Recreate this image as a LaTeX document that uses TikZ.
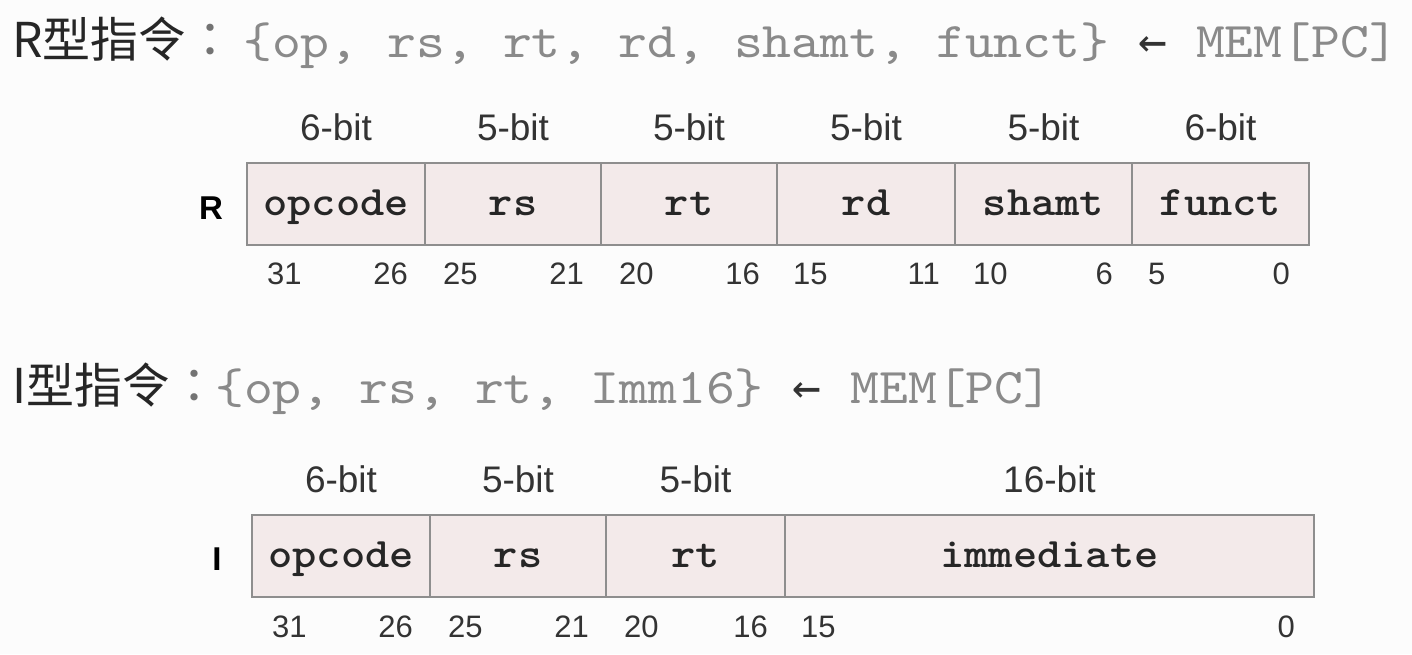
\documentclass[tikz,border=0pt]{standalone}
\usepackage{fontspec}
\setmainfont{Liberation Sans}
\newfontfamily\cjkfont{Noto Sans CJK TC}
\newfontfamily\codefont[FakeStretch=1.1]{lmmono10-regular.otf}
\newfontfamily\fieldfont[FakeStretch=1.1]{lmmonolt10-bold.otf}
\newfontfamily\arrowfont{DejaVu Sans Mono}
\definecolor{pagebg}{HTML}{FCFCFC}
\definecolor{boxfill}{HTML}{F3EAEA}
\definecolor{boxline}{HTML}{8E8E8E}
\definecolor{fieldtext}{HTML}{262626}
\definecolor{formulatext}{HTML}{8A8A8A}
\definecolor{labeltext}{HTML}{333333}
\begin{document}
\begin{tikzpicture}[x=1pt,y=-1pt,
  field/.style={draw=boxline, line width=2.4pt, fill=boxfill,
    minimum height=82pt, inner sep=0pt, outer sep=0pt, anchor=west,
    text height=22pt, text depth=0pt, text=fieldtext,
    font=\fieldfont\fontsize{42}{44}\selectfont},
  bitlbl/.style={anchor=base, inner sep=0pt, text=labeltext,
    font=\fontsize{37}{39}\selectfont},
  numlbl/.style={inner sep=0pt, text=labeltext,
    font=\fontsize{31}{33}\selectfont},
  rowlbl/.style={anchor=base, inner sep=0pt, text=black,
    font=\bfseries\fontsize{33}{35}\selectfont},
  title/.style={anchor=base west, inner sep=0pt, text=black!85,
    font=\cjkfont\fontsize{48}{50}\selectfont},
  formula/.style={anchor=base west, inner sep=0pt, text=formulatext,
    font=\codefont\fontsize{50}{52}\selectfont}]

\useasboundingbox[fill=pagebg] (0,0) rectangle (1412,654);

% ---------------- R-type ----------------
\node[title] (rtitle) at (12,57) {R型指令{\color{black!55}：}};
\node[formula] (rformula) at (243,57)
  {\{op, rs, rt, rd, shamt, funct\} {\arrowfont\fontsize{48}{50}\selectfont\color{black!80}←} MEM[PC]};

\node[rowlbl] (rlbl) at (211,219) {R};
\node[field, minimum width=178pt] (r1) at (247,204) {opcode};
\node[field, minimum width=176pt] (r2) at (r1.east) {rs};
\node[field, minimum width=176pt] (r3) at (r2.east) {rt};
\node[field, minimum width=178pt] (r4) at (r3.east) {rd};
\node[field, minimum width=177pt] (r5) at (r4.east) {shamt};
\node[field, minimum width=177pt] (r6) at (r5.east) {funct};

\node[bitlbl] (r1b) at (r1 |- 0,140) {6-bit};
\node[bitlbl] (r2b) at (r2 |- 0,140) {5-bit};
\node[bitlbl] (r3b) at (r3 |- 0,140) {5-bit};
\node[bitlbl] (r4b) at (r4 |- 0,140) {5-bit};
\node[bitlbl] (r5b) at (r5 |- 0,140) {5-bit};
\node[bitlbl] (r6b) at (r6 |- 0,140) {6-bit};

\node[numlbl, anchor=base west, xshift=20pt] (r1hi) at (r1.west |- 0,284) {31};
\node[numlbl, anchor=base east, xshift=-17pt] (r1lo) at (r1.east |- 0,284) {26};
\node[numlbl, anchor=base west, xshift=18pt] (r2hi) at (r2.west |- 0,284) {25};
\node[numlbl, anchor=base east, xshift=-17pt] (r2lo) at (r2.east |- 0,284) {21};
\node[numlbl, anchor=base west, xshift=18pt] (r3hi) at (r3.west |- 0,284) {20};
\node[numlbl, anchor=base east, xshift=-17pt] (r3lo) at (r3.east |- 0,284) {16};
\node[numlbl, anchor=base west, xshift=16pt] (r4hi) at (r4.west |- 0,284) {15};
\node[numlbl, anchor=base east, xshift=-15pt] (r4lo) at (r4.east |- 0,284) {11};
\node[numlbl, anchor=base west, xshift=18pt] (r5hi) at (r5.west |- 0,284) {10};
\node[numlbl, anchor=base east, xshift=-19pt] (r5lo) at (r5.east |- 0,284) {6};
\node[numlbl, anchor=base west, xshift=16pt] (r6hi) at (r6.west |- 0,284) {5};
\node[numlbl, anchor=base east, xshift=-19pt] (r6lo) at (r6.east |- 0,284) {0};

% ---------------- I-type ----------------
\node[title] (ititle) at (12,403) {I型指令{\color{black!55}：}};
\node[formula] (iformula) at (215,403)
  {\{op, rs, rt, Imm16\} {\arrowfont\fontsize{48}{50}\selectfont\color{black!80}←} MEM[PC]};

\node[rowlbl] (ilbl) at (217,570) {I};
\node[field, minimum width=178pt] (i1) at (252,556) {opcode};
\node[field, minimum width=176pt] (i2) at (i1.east) {rs};
\node[field, minimum width=179pt] (i3) at (i2.east) {rt};
\node[field, minimum width=529pt] (i4) at (i3.east) {immediate};

\node[bitlbl] (i1b) at (i1 |- 0,492) {6-bit};
\node[bitlbl] (i2b) at (i2 |- 0,492) {5-bit};
\node[bitlbl] (i3b) at (i3 |- 0,492) {5-bit};
\node[bitlbl] (i4b) at (i4 |- 0,492) {16-bit};

\node[numlbl, anchor=base west, xshift=20pt] (i1hi) at (i1.west |- 0,637) {31};
\node[numlbl, anchor=base east, xshift=-17pt] (i1lo) at (i1.east |- 0,637) {26};
\node[numlbl, anchor=base west, xshift=18pt] (i2hi) at (i2.west |- 0,637) {25};
\node[numlbl, anchor=base east, xshift=-17pt] (i2lo) at (i2.east |- 0,637) {21};
\node[numlbl, anchor=base west, xshift=18pt] (i3hi) at (i3.west |- 0,637) {20};
\node[numlbl, anchor=base east, xshift=-17pt] (i3lo) at (i3.east |- 0,637) {16};
\node[numlbl, anchor=base west, xshift=16pt] (i4hi) at (i4.west |- 0,637) {15};
\node[numlbl, anchor=base east, xshift=-19pt] (i4lo) at (i4.east |- 0,637) {0};

\end{tikzpicture}
\end{document}
